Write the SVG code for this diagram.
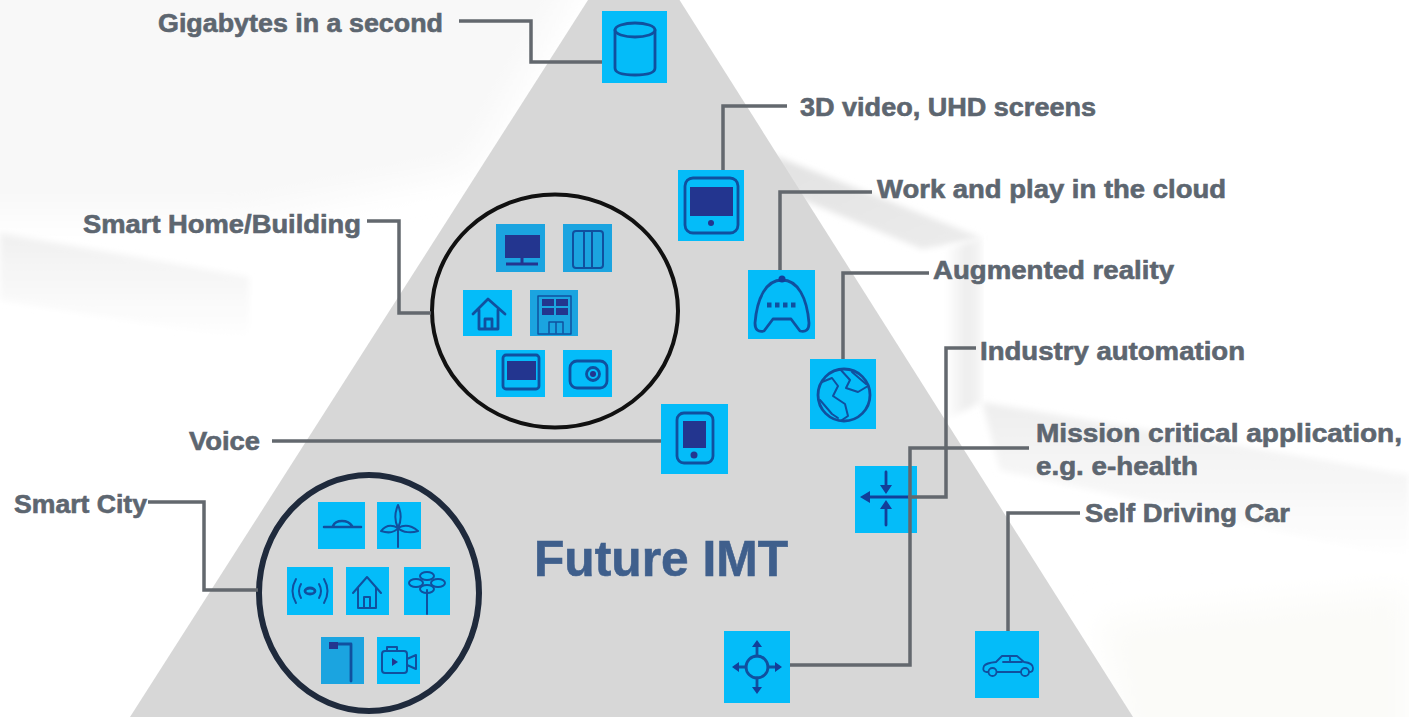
<svg xmlns="http://www.w3.org/2000/svg" width="1409" height="717" viewBox="0 0 1409 717">
<style>
text{font-family:"Liberation Sans",Arial,sans-serif;font-weight:700;fill:#5d6670;stroke:#5d6670;stroke-width:.6;font-size:25px}
.c{fill:none;stroke:#63686e;stroke-width:3.5}
.b{fill:#04bcf9}
.m{fill:#1ba4e0}
.i{fill:none;stroke:#10509f;stroke-width:2.8;stroke-linejoin:round;stroke-linecap:round}
.t{fill:none;stroke:#10509f;stroke-width:2;stroke-linejoin:round;stroke-linecap:round}
.f{fill:#23358f}
.d{fill:#123f9a}
</style>
<defs>
<filter id="soft" x="-5%" y="-5%" width="110%" height="110%"><feGaussianBlur stdDeviation="3"/></filter>
<filter id="softer" x="-10%" y="-10%" width="120%" height="120%"><feGaussianBlur stdDeviation="16"/></filter>
<linearGradient id="fadeL" x1="0" y1="0" x2="0" y2="1"><stop offset="0" stop-color="#f0f0f0"/><stop offset="1" stop-color="#ffffff"/></linearGradient>
<linearGradient id="fadeR" x1="0" y1="0" x2="0" y2="1"><stop offset="0" stop-color="#eeeeee"/><stop offset="1" stop-color="#ffffff"/></linearGradient>
<linearGradient id="strip" x1="0" y1="0" x2="1" y2="0"><stop offset="0" stop-color="#ffffff"/><stop offset=".6" stop-color="#ededed"/><stop offset="1" stop-color="#f6f6f6"/></linearGradient>
<linearGradient id="wedge" x1="0" y1="0" x2="1" y2="1"><stop offset="0" stop-color="#e2e2e2"/><stop offset="1" stop-color="#ececec"/></linearGradient>
</defs>
<g id="background">
<rect width="1409" height="717" fill="#ffffff"/>
<polygon points="-40,-40 590,-40 470,170 250,215 -40,215" fill="#f8f8f8" filter="url(#softer)"/>
<polygon points="0,233 249,277 249,340 0,300" fill="url(#fadeL)" filter="url(#soft)"/>
<polygon points="773,155 982,238 922,249 796,197" fill="url(#wedge)" filter="url(#soft)"/>
<polygon points="945,249 982,238 982,402 945,420" fill="url(#strip)" filter="url(#soft)"/>
<polygon points="982,402 1409,475 1409,560 1000,470" fill="url(#fadeR)" filter="url(#soft)"/>
<polygon points="1100,620 1409,590 1409,760 1133,760" fill="#fbfbf8" filter="url(#softer)"/>
</g>
<polygon id="pyramid" points="634,-72 1133,717 130,717" fill="#d7d7d7"/>

<g id="node-data"><rect class="b" x="602" y="11" width="65" height="72"/><path class="i" d="M615 30V68Q615 75 635 75T655 68V30"/><ellipse class="i" cx="635" cy="30" rx="20" ry="7"/></g>
<g id="node-video"><rect class="b" x="678" y="170" width="66" height="71"/><rect class="i" x="685" y="178" width="53" height="55" rx="8"/><rect class="f" x="690" y="187" width="43" height="29"/><circle class="f" cx="711" cy="223" r="3"/></g>
<g id="node-cloud"><rect class="b" x="748" y="270" width="67" height="69"/><path class="i" d="M782 280C766 280 757 298 755 323Q755 333 764 331L773 319H791L800 331Q809 333 809 323C807 298 798 280 782 280Z"/><path d="M767 305H798" stroke="#10509f" stroke-width="5" stroke-dasharray="4.5 3.5" fill="none"/><circle class="d" cx="782" cy="279" r="3.5"/></g>
<g id="node-ar"><rect class="b" x="810" y="359" width="66" height="70"/><circle class="i" cx="844" cy="395" r="26"/><path class="t" d="M822 382L832 378L838 386L833 396L845 404L848 416L842 420M840 369L850 380L846 388L858 392L868 386M852 372L866 384M820 400L832 414L838 418"/></g>
<g id="node-voice"><rect class="b" x="661" y="404" width="67" height="70"/><rect class="i" x="677" y="413" width="36" height="50" rx="7"/><rect class="f" x="683" y="421" width="23" height="27"/><circle class="f" cx="694" cy="455" r="3.5"/></g>
<g id="node-industry"><rect class="b" x="855" y="466" width="62" height="67"/><path class="i" style="stroke:#123f9a" d="M864 497H908M886 472V488M886 506V525"/><path class="d" d="M860 497l10-6v12zM886 494l-6-9h12zM886 500l-6 9h12z"/></g>
<g id="node-mission"><rect class="b" x="724" y="631" width="66" height="72"/><circle class="i" cx="757" cy="667" r="11"/><path class="i" d="M757 656V644M757 678V690M746 667H736M768 667H778"/><path class="d" d="M757 640l-5 7h10zM757 694l-5-7h10zM732 667l7-5v10zM782 667l-7-5v10z"/></g>
<g id="node-car"><rect class="b" x="975" y="631" width="64" height="67"/><path class="t" style="stroke-width:1.8" d="M988 672H986Q982 671 984 666Q986 663 996 662L1002 656H1017L1024 662Q1033 663 1033 668Q1033 672 1030 672H1029M1021 672H997M1003 662H1022M1010 656V662"/><circle class="t" style="stroke-width:1.8" cx="992.500" cy="672" r="4"/><circle class="t" style="stroke-width:1.8" cx="1025" cy="672" r="4"/></g>

<g id="node-home-group">
<ellipse cx="555" cy="311" rx="123" ry="116.500" fill="#d7d7d7" stroke="#111" stroke-width="4"/>
<rect class="m" x="496" y="224" width="49" height="48"/><rect class="f" x="505" y="235" width="35" height="23"/><path d="M506 264H538M522 258V264" stroke="#23358f" stroke-width="3"/>
<rect class="m" x="563" y="224" width="49" height="48"/><rect class="i" x="573" y="231" width="30" height="37" rx="3" style="stroke-width:2"/><path class="i" d="M584 232V267M592 232V267" style="stroke-width:2"/>
<rect class="b" x="463" y="290" width="49" height="46"/><path class="i" d="M473 314L488 299L505 314M479 310V329H498V310M485 329V319H492V329"/>
<rect class="m" x="530" y="290" width="48" height="46"/><rect class="t" x="538" y="296" width="33" height="38" style="stroke-width:1.5"/><path d="M542 299h12v7h-12zM556 299h12v7h-12zM542 308h12v7h-12zM556 308h12v7h-12z" fill="#23358f"/><path class="t" style="stroke-width:1.5" d="M549 333V322H563V333M556 322V333"/>
<rect class="b" x="496" y="350" width="49" height="47"/><rect class="i" x="503" y="355" width="36" height="34" rx="3"/><rect class="f" x="507" y="361" width="29" height="19"/>
<rect class="b" x="563" y="350" width="49" height="47"/><rect class="i" x="570" y="361" width="37" height="27" rx="7"/><circle class="i" cx="593" cy="374" r="6.500"/><circle class="f" cx="593" cy="374" r="3"/>
</g>
<g id="node-city-group">
<ellipse cx="369" cy="593" rx="110" ry="118" fill="#d7d7d7" stroke="#1f2a3c" stroke-width="6"/>
<rect class="b" x="318" y="502" width="47" height="47"/><path class="i" d="M324 527H361M333 526Q335 521 342 521T352 526" style="stroke-width:2.500"/>
<rect class="b" x="377" y="502" width="44" height="47"/><path class="t" d="M398 528V547M398 528C394 520 395 512 398 505C401 512 402 520 398 528ZM398 528C391 524 385 526 381 531C387 533 394 533 398 528ZM398 528C405 524 412 526 418 531C412 533 403 533 398 528Z"/>
<rect class="b" x="287" y="567" width="46" height="48"/><ellipse class="i" cx="310" cy="591" rx="5" ry="3"/><path class="t" d="M301 584Q297 591 301 598M319 584Q323 591 319 598M296 579Q289 591 296 603M324 579Q331 591 324 603"/>
<rect class="b" x="346" y="567" width="43" height="48"/><path class="t" d="M353 593L367 577L381 593M358 588V608H376V588M364 608V597H370V608"/>
<rect class="b" x="404" y="567" width="46" height="48"/><path class="t" d="M427 590V614"/><ellipse class="t" cx="427" cy="576" rx="7" ry="4"/><ellipse class="t" cx="427" cy="589" rx="7" ry="4"/><ellipse class="t" cx="416" cy="583" rx="7" ry="4"/><ellipse class="t" cx="438" cy="583" rx="7" ry="4"/>
<rect class="m" x="321" y="637" width="43" height="47"/><path class="i" d="M332 644H351V681"/><rect class="f" x="329" y="642" width="9" height="7"/>
<rect class="b" x="377" y="637" width="43" height="47"/><rect class="t" x="382" y="651" width="25" height="22" rx="3"/><path class="t" d="M407 659L416 655V669L407 665M387 651V647H397V651"/><path class="f" d="M392 658l6 4-6 4z"/>
</g>

<g id="connectors">
<path class="c" d="M459 21H531V62H602"/>
<path class="c" d="M787 106H723V170"/>
<path class="c" d="M872 192H780V270"/>
<path class="c" d="M929 273H843V359"/>
<path class="c" d="M976 348H946V497H908"/>
<path class="c" d="M1029 448H910V665H790"/>
<path class="c" d="M1080 513H1008V631"/>
<path class="c" d="M367 221H399V313H431"/>
<path class="c" d="M272 441H661"/>
<path class="c" d="M148 502H204V590H258"/>
</g>
<g id="label-gigabytes"><text x="158" y="32" textLength="285" lengthAdjust="spacingAndGlyphs">Gigabytes in a second</text></g>
<g id="label-3d"><text x="800" y="116" textLength="296" lengthAdjust="spacingAndGlyphs">3D video, UHD screens</text></g>
<g id="label-work"><text x="877" y="198" textLength="349" lengthAdjust="spacingAndGlyphs">Work and play in the cloud</text></g>
<g id="label-ar"><text x="933" y="279" textLength="241" lengthAdjust="spacingAndGlyphs">Augmented reality</text></g>
<g id="label-industry"><text x="980" y="360" textLength="265" lengthAdjust="spacingAndGlyphs">Industry automation</text></g>
<g id="label-mission"><text x="1036" y="442" textLength="366" lengthAdjust="spacingAndGlyphs">Mission critical application,</text><text x="1036" y="475" textLength="162" lengthAdjust="spacingAndGlyphs">e.g. e-health</text></g>
<g id="label-car"><text x="1085" y="522" textLength="205" lengthAdjust="spacingAndGlyphs">Self Driving Car</text></g>
<g id="label-home"><text x="83" y="233" textLength="278" lengthAdjust="spacingAndGlyphs">Smart Home/Building</text></g>
<g id="label-voice"><text x="189" y="450" textLength="71" lengthAdjust="spacingAndGlyphs">Voice</text></g>
<g id="label-city"><text x="14" y="513" textLength="133" lengthAdjust="spacingAndGlyphs">Smart City</text></g>
<g id="title"><text x="534" y="576" textLength="254" lengthAdjust="spacingAndGlyphs" style="font-size:50px;fill:#3f5f8c;stroke:#3f5f8c">Future IMT</text></g>
</svg>
